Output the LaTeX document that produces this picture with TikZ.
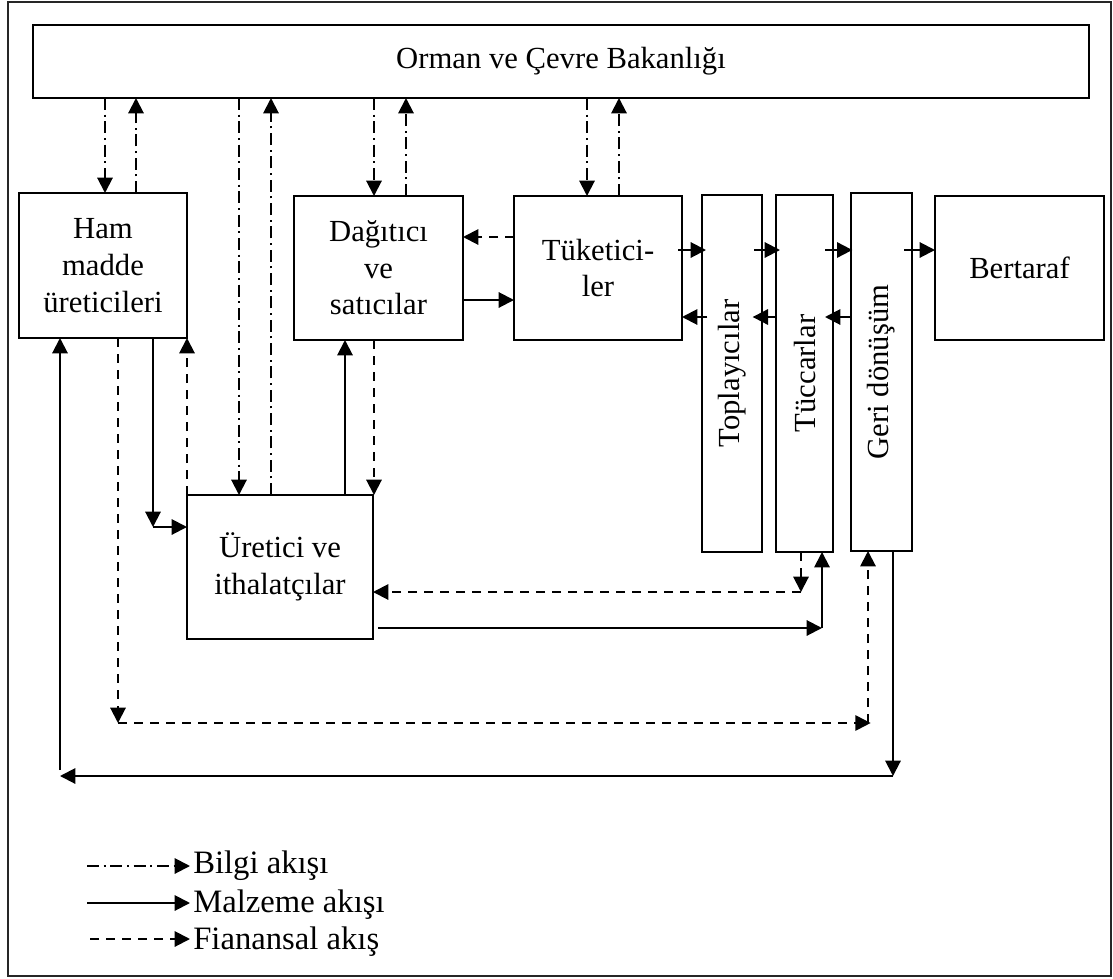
\documentclass[tikz,border=0pt]{standalone}
\usepackage{fontspec}
\setmainfont{Liberation Serif}
\usepackage{graphicx}
\usetikzlibrary{arrows.meta}
\begin{document}
\begin{tikzpicture}[x=0.75pt,y=-0.75pt,
  box/.style={draw,line width=1.5pt,inner sep=0pt,outer sep=0pt,align=center,
    font=\fontsize{23}{27.5}\selectfont},
  tipst/.style={-{Triangle[length=11.5pt,width=11.5pt]}},
  info/.style={line width=1.5pt,dash pattern=on 9pt off 3.5pt on 1.5pt off 3.5pt,tipst},
  mat/.style={line width=1.5pt,tipst},
  fin/.style={line width=1.5pt,dash pattern=on 7pt off 5pt,tipst},
  legendtext/.style={anchor=base west,inner sep=0pt,font=\fontsize{24.5}{28}\selectfont},
]
\useasboundingbox (0,0) rectangle (1113,978);
\node[draw,line width=0.9pt,black!85,minimum width=827.25pt,minimum height=730.5pt,inner sep=0pt,outer sep=0pt] (frame) at (559.5,489) {};

% boxes
\node[box,minimum width=792pt,minimum height=54.75pt] (orman) at (561,61.5) {Orman ve Çevre Bakanlığı};
\node[box,minimum width=126pt,minimum height=108.75pt] (ham) at (103,265.5) {Ham\\madde\\üreticileri};
\node[box,minimum width=126.75pt,minimum height=108pt] (dag) at (378.5,268) {Dağıtıcı\\ve\\satıcılar};
\node[box,minimum width=126pt,minimum height=108pt] (tuk) at (598,268) {Tüketici-\\ler};
\node[box,minimum width=45pt,minimum height=267.75pt] (top) at (732,373.5) {\rotatebox{90}{Toplayıcılar}};
\node[box,minimum width=42.75pt,minimum height=267.75pt] (tuc) at (804.5,373.5) {\rotatebox{90}{Tüccarlar}};
\node[box,minimum width=45.75pt,minimum height=268.5pt] (geri) at (881.5,372) {\rotatebox{90}{Geri dönüşüm}};
\node[box,minimum width=126.75pt,minimum height=108pt] (bert) at (1019.5,268) {Bertaraf};
\node[box,minimum width=139.5pt,minimum height=108pt] (ure) at (280,567) {Üretici ve\\ithalatçılar};

% information flows
\draw[info] (105,0 |- orman.south) -- (105,0 |- ham.north);
\draw[info] (136,0 |- ham.north) -- (136,0 |- orman.south);
\draw[info] (239,0 |- orman.south) -- (239,0 |- ure.north);
\draw[info] (271,0 |- ure.north) -- (271,0 |- orman.south);
\draw[info] (374,0 |- orman.south) -- (374,0 |- dag.north);
\draw[info] (406,0 |- dag.north) -- (406,0 |- orman.south);
\draw[info] (587,0 |- orman.south) -- (587,0 |- tuk.north);
\draw[info] (619,0 |- tuk.north) -- (619,0 |- orman.south);

% material flows
\draw[mat] (dag.east |- 0,300) -- (tuk.west |- 0,300);
\draw[mat] (345,0 |- ure.north) -- (345,0 |- dag.south);
\coordinate (c1) at (153,527);
\draw[mat] (c1 |- ham.south) -- (c1);
\draw[mat] (c1) -- (ure.west |- c1);
\coordinate (c2) at (822,628);
\draw[mat,shorten <=4pt] (ure.east |- c2) -- (c2);
\draw[mat] (c2) -- (c2 |- tuc.south);
\coordinate (c3) at (893,776);
\coordinate (c4) at (60,776);
\draw[mat] (c3 |- geri.south) -- (c3);
\draw[mat] (c3) -- (c4);
\draw[mat,shorten <=4.5pt] (c4) -- (c4 |- ham.south);

\draw[mat,shorten <=-3pt,shorten >=-3pt] (tuk.east |- 0,250) -- (top.west |- 0,250);
\draw[mat,shorten <=-6pt,shorten >=-3pt] (top.east |- 0,250) -- (tuc.west |- 0,250);
\draw[mat,shorten <=-6pt,shorten >=-1pt] (tuc.east |- 0,250) -- (geri.west |- 0,250);
\draw[mat,shorten <=-6pt] (geri.east |- 0,250) -- (bert.west |- 0,250);
\draw[mat,shorten <=-4pt] (top.west |- 0,317) -- (tuk.east |- 0,317);
\draw[mat,shorten >=-7pt] (tuc.west |- 0,317) -- (top.east |- 0,317);
\draw[mat,shorten >=-6pt] (geri.west |- 0,317) -- (tuc.east |- 0,317);

% financial flows
\draw[fin] (tuk.west |- 0,237) -- (dag.east |- 0,237);
\draw[fin] (ure.north west) -- (ham.south east);
\draw[fin] (374,0 |- dag.south) -- (374,0 |- ure.north);
\coordinate (c5) at (801,592);
\draw[fin] (c5 |- tuc.south) -- (c5);
\draw[fin] (c5) -- (ure.east |- c5);
\coordinate (c6) at (118,723);
\coordinate (c7) at (868,723);
\draw[fin] (c6 |- ham.south) -- (c6);
\draw[fin,shorten >=-2pt] (c6) -- (c7);
\draw[fin] (c7) -- (c7 |- geri.south);

% legend
\coordinate (l1s) at (87,866); \coordinate (l1e) at (190,866);
\coordinate (l2s) at (87,903); \coordinate (l2e) at (190,903);
\coordinate (l3s) at (90,939); \coordinate (l3e) at (190,939);
\draw[info] (l1s) -- (l1e);
\draw[mat] (l2s) -- (l2e);
\draw[fin] (l3s) -- (l3e);
\node[legendtext] (t1) at (193,873) {Bilgi akışı};
\node[legendtext] (t2) at (193,912) {Malzeme akışı};
\node[legendtext] (t3) at (193,949) {Fianansal akış};
\end{tikzpicture}
\end{document}
